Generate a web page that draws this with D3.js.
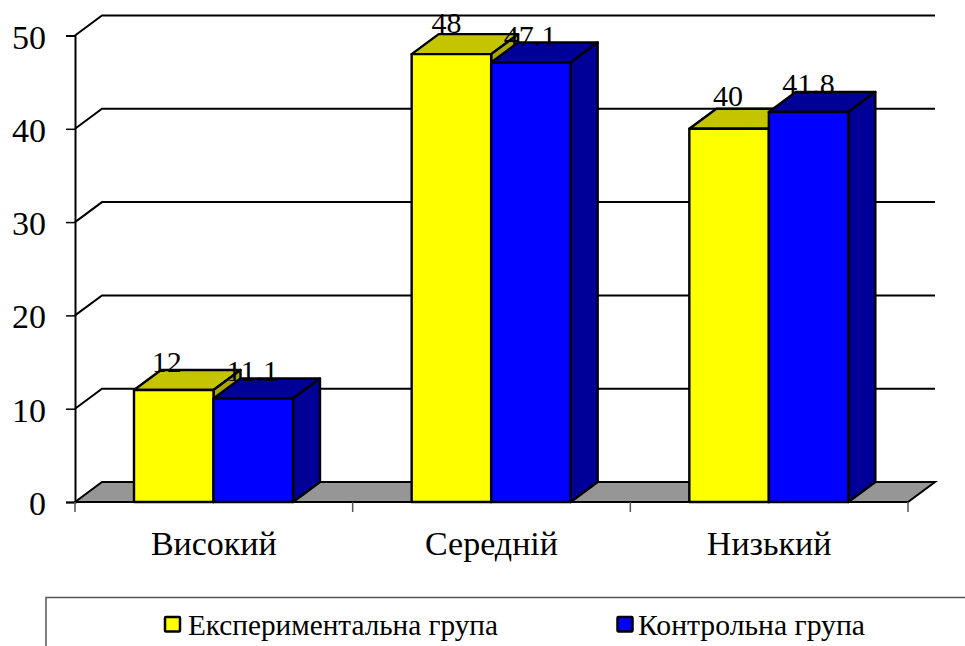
<!DOCTYPE html>
<html>
<head>
<meta charset="utf-8">
<script src="https://cdnjs.cloudflare.com/ajax/libs/d3/7.8.5/d3.min.js"></script>
<style>
html, body { margin: 0; padding: 0; background: #fff; }
svg { display: block; }
text { font-family: "Liberation Serif", serif; fill: #000; }
</style>
</head>
<body>
<div class="chart"></div>
<script>
const categories = ["Високий", "Середній", "Низький"];
const seriesNames = ["Експериментальна група", "Контрольна група"];
const experimental = [12, 48, 40];
const control = [11.1, 47.1, 41.8];
const seriesValues = [experimental, control];
const yTicks = [0, 10, 20, 30, 40, 50];

const width = 965, height = 646;
const depthX = 27, depthY = -20; // offset of the 3d back wall
const frontColors = ["#ffff00", "#0000ff"];
const topColors = ["#c4c400", "#000099"];
const sideColors = ["#a8a800", "#000099"];
// value labels sit a little unevenly in the original
const labelDx = [[-7, -5, -1], [-1, -1, 0]];
const labelDy = [[-18, -21, -23], [-17.5, -17, -18]];

const svg = d3.select("div.chart").append("svg")
	.attr("width", width)
	.attr("height", height);

const x0 = d3.scaleBand().domain(categories).range([75, 908]);
const x1 = d3.scaleBand().domain(d3.range(seriesNames.length)).range([59, 218]);
const y = d3.scaleLinear().domain([0, 50]).range([502, 35.5]);

const line = d3.line();

// floor
svg.append("path")
	.attr("d", line([
		[x0.range()[0], y(0)],
		[x0.range()[0] + depthX, y(0) + depthY],
		[x0.range()[1] + depthX, y(0) + depthY],
		[x0.range()[1], y(0)]
	]) + "Z")
	.attr("fill", "#969696")
	.attr("stroke", "#000")
	.attr("stroke-width", 2);

// grid lines run up the left wall, then along the back
svg.append("g").selectAll("path")
	.data(yTicks.filter(d => d > 0))
	.join("path")
	.attr("d", d => line([
		[x0.range()[0], y(d)],
		[x0.range()[0] + depthX, y(d) + depthY],
		[x0.range()[1] + depthX, y(d) + depthY]
	]))
	.attr("fill", "none")
	.attr("stroke", "#000")
	.attr("stroke-width", 2);

// axes
const yAxis = svg.append("g")
	.attr("transform", "translate(" + x0.range()[0] + ",0)")
	.call(d3.axisLeft(y).tickValues(yTicks).tickSize(9).tickPadding(20));
yAxis.select(".domain").attr("stroke-width", 2);
yAxis.selectAll(".tick line").attr("stroke-width", 1.5);
yAxis.selectAll("text")
	.attr("font-family", "Liberation Serif")
	.attr("font-size", 34)
	.attr("dy", "0.37em");

const xAxis = svg.append("g")
	.attr("transform", "translate(0," + y(0) + ")");
xAxis.append("line")
	.attr("x1", x0.range()[0]).attr("x2", x0.range()[1])
	.attr("stroke", "#000").attr("stroke-width", 2);
xAxis.selectAll("line.tick")
	.data(categories.concat(["end"]))
	.join("line")
	.attr("class", "tick")
	.attr("x1", (d, i) => x0.range()[0] + i * x0.step())
	.attr("x2", (d, i) => x0.range()[0] + i * x0.step())
	.attr("y2", 10)
	.attr("stroke", "#555")
	.attr("stroke-width", 1.5);
xAxis.selectAll("text")
	.data(categories)
	.join("text")
	.attr("x", d => x0(d) + x0.bandwidth() / 2)
	.attr("y", 53)
	.attr("text-anchor", "middle")
	.attr("font-size", 34)
	.text(d => d);

// bars, yellow one first so the blue one covers its side
seriesValues.forEach((values, s) => {
	const g = svg.append("g").attr("class", "series");
	const bars = g.selectAll("g")
		.data(values)
		.join("g");

	const left = (i) => x0(categories[i]) + x1(s);
	const right = (i) => left(i) + x1.bandwidth();

	bars.append("path") // top
		.attr("d", (d, i) => line([
			[left(i), y(d)],
			[left(i) + depthX, y(d) + depthY],
			[right(i) + depthX, y(d) + depthY],
			[right(i), y(d)]
		]) + "Z")
		.attr("fill", topColors[s]);
	bars.append("path") // side
		.attr("d", (d, i) => line([
			[right(i), y(d)],
			[right(i) + depthX, y(d) + depthY],
			[right(i) + depthX, y(0) + depthY],
			[right(i), y(0)]
		]) + "Z")
		.attr("fill", sideColors[s]);
	bars.append("rect") // front
		.attr("x", (d, i) => left(i))
		.attr("y", d => y(d))
		.attr("width", x1.bandwidth())
		.attr("height", d => y(0) - y(d))
		.attr("fill", frontColors[s]);
	bars.selectAll("path, rect")
		.attr("stroke", "#000")
		.attr("stroke-width", 2.4)
		.attr("stroke-linejoin", "round");
});

// value labels go on top of everything
seriesValues.forEach((values, s) => {
	svg.append("g").selectAll("text")
		.data(values)
		.join("text")
		.attr("x", (d, i) => x0(categories[i]) + x1(s) + x1.bandwidth() / 2 + labelDx[s][i])
		.attr("y", (d, i) => y(d) + labelDy[s][i])
		.attr("text-anchor", "middle")
		.attr("font-size", 30)
		.text(d => d);
});

// legend box is cut off by the edge of the picture
const legend = svg.append("g");
legend.append("path")
	.attr("d", line([[46, height], [46, 597.5], [width, 597.5]]))
	.attr("fill", "none")
	.attr("stroke", "#555")
	.attr("stroke-width", 1.5);

const legendItems = legend.selectAll("g")
	.data(seriesNames)
	.join("g")
	.attr("transform", (d, i) => "translate(" + [165, 617.5][i] + ",0)");
legendItems.append("rect")
	.attr("y", 617)
	.attr("width", 15)
	.attr("height", 14.5)
	.attr("rx", 1)
	.attr("fill", (d, i) => frontColors[i])
	.attr("stroke", "#000")
	.attr("stroke-width", 2.5);
legendItems.append("text")
	.attr("x", (d, i) => [23, 20.5][i])
	.attr("y", 635)
	.attr("font-size", 30)
	.attr("textLength", (d, i) => [310, 227][i])
	.attr("lengthAdjust", "spacingAndGlyphs")
	.text(d => d);
</script>
</body>
</html>
